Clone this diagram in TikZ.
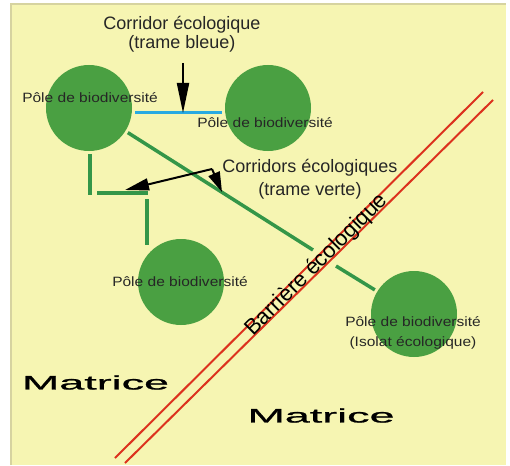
\documentclass[tikz,border=0pt]{standalone}
\usepackage{fontspec}
\setmainfont{Liberation Sans}
\newfontfamily\widefont[FakeStretch=2.3, FakeBold=1.2]{Liberation Sans}
\newfontfamily\polefont[FakeStretch=1.15]{Liberation Sans}
\usetikzlibrary{arrows.meta}
\definecolor{fond}{RGB}{246,245,178}
\definecolor{bord}{RGB}{214,211,160}
\definecolor{polevert}{RGB}{74,160,66}
\definecolor{trameverte}{RGB}{52,150,72}
\definecolor{tramebleue}{RGB}{40,170,225}
\definecolor{barriere}{RGB}{220,50,30}

\begin{document}
\begin{tikzpicture}[x=1pt, y=-1pt,
    pole/.style={shape=circle, fill=polevert, minimum size=86pt, inner sep=0pt, outer sep=3pt},
    polelabel/.style={font=\polefont\fontsize{13.5}{20}\selectfont, text=black!85, inner sep=0pt},
    titre/.style={font=\fontsize{18}{19}\selectfont, text=black!85, align=center, inner sep=0pt},
    matrice/.style={font=\widefont\fontsize{19.5}{20}\selectfont, inner sep=0pt},
    verte/.style={draw=trameverte, line width=3.5pt},
    rouge/.style={draw=barriere, line width=2pt},
    fleche/.style={-{Triangle[length=24pt, width=12pt]}, line width=2pt}]
     % fond
     \useasboundingbox (0,0) rectangle (510,465);
     \fill[fond] (11,4) rectangle (506,465);
     \draw[bord, line width=1.5pt] (11,465) -- (11,4) -- (506,4);

     % barriere
     \draw[rouge] (483,92) -- (115,458);
     \draw[rouge] (493,100) -- (125,463);

     % poles
     \node[pole] (p1) at (89,108)  {};
     \node[pole] (p2) at (268,108) {};
     \node[pole] (p3) at (181,282) {};
     \node[pole] (p4) at (414,314) {};

     % corridors
     \coordinate (ga) at (313,250);
     \coordinate (gb) at (336,266);
     \coordinate (k1) at (90,195);
     \coordinate (k2) at (97,193);
     \coordinate (k3) at (148,193);
     \coordinate (k4) at (147,199);
     \coordinate (k5) at (147,245);
     \draw[tramebleue, line width=3pt] ([yshift=-5pt]p1.east) -- ([yshift=-5pt]p2.west);
     \draw[verte] (p1) -- (ga);
     \draw[verte] (gb) -- (p4);
     \draw[verte] (p1.south -| k1) -- (k1);
     \draw[verte] (k2) -- (k3);
     \draw[verte] (k4) -- (k5);

     % textes
     \node[polelabel] (t1) at (90,98)  {Pôle de biodiversité};
     \node[polelabel] (t2) at (265,123) {Pôle de biodiversité};
     \node[polelabel] (t3) at (180,282) {Pôle de biodiversité};
     \node[polelabel, align=center] (t4) at (413,333) {Pôle de biodiversité\\(Isolat écologique)};
     \node[titre] (tb) at (182,34) {Corridor écologique\\(trame bleue)};
     \node[titre, font=\fontsize{18}{23}\selectfont] (tv) at (310,179) {Corridors écologiques\\(trame verte)};
     \node[rotate=45, anchor=base, font=\fontsize{22}{22}\selectfont, inner sep=0pt] (bt) at (321,269) {Barrière écologique};
     \node[matrice] (m1) at (95.5,382.5) {Matrice};
     \node[matrice] (m2) at (321,415.5) {Matrice};

     % fleches
     \coordinate (f0) at (183,63);
     \coordinate (f1) at (183,113);
     \coordinate (cv) at (212,169);
     \coordinate (f2) at (125,190);
     \coordinate (f3) at (222,192);
     \draw[fleche, -{Triangle[length=30pt, width=12pt]}] (f0) -- (f1);
     \draw[fleche] (cv) -- (f2);
     \draw[fleche, -{Triangle[length=20pt, width=12pt]}] (cv) -- (f3);
\end{tikzpicture}
\end{document}
